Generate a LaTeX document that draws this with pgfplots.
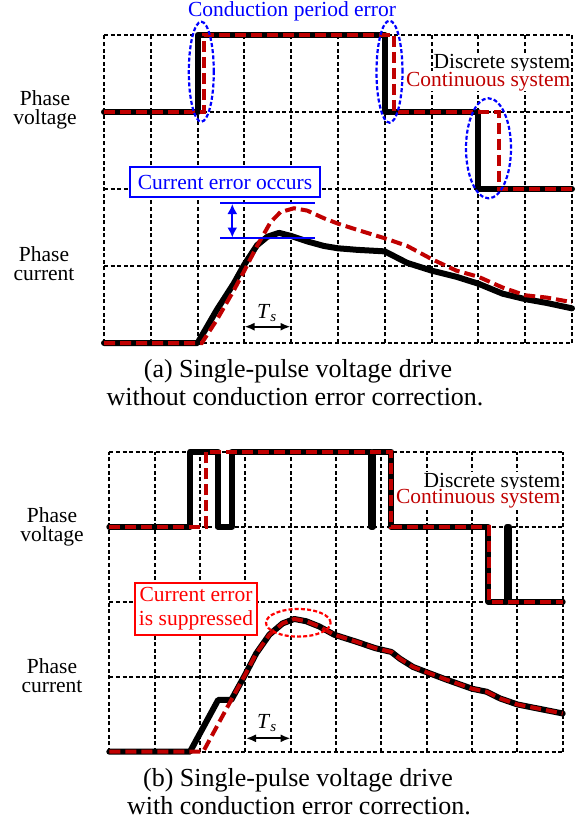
\documentclass[border=0pt]{standalone}
\usepackage{fontspec}
\setmainfont{Liberation Serif}
\usepackage{pgfplots}
\pgfplotsset{compat=1.18}
\usetikzlibrary{arrows.meta}
\definecolor{dred}{RGB}{192,0,0}
\definecolor{bblue}{RGB}{0,0,255}
\definecolor{rred}{RGB}{255,0,0}
\newcommand{\lab}{\fontsize{21.5pt}{21.5pt}\selectfont}
\newcommand{\capf}{\fontsize{26pt}{28pt}\selectfont}
\pgfplotsset{
  panel/.style={scale only axis, xmin=0, xmax=10, ymin=0, ymax=4,
    xtick={0,...,10}, ytick={0,...,4}, xticklabels={}, yticklabels={},
    major tick length=0pt, tick style={draw=none},
    grid=major, major grid style={black, line width=2pt, dash pattern=on 4pt off 2.6pt},
    axis line style={draw=none}, clip=false, anchor=south west},
  disc/.style={black, line width=6pt, line join=round, line cap=round, mark=none},
  cont/.style={dred, line width=4pt, dash pattern=on 11pt off 5pt, mark=none},
}
\begin{document}
\begin{tikzpicture}
\path[use as bounding box] (0,0) rectangle (585pt,-825pt);
% ---------------- panel (a)
\begin{axis}[panel, at={(104pt,-343pt)}, width=468pt, height=308pt]
\addplot[disc] coordinates {(0,3) (2,3) (2,4) (6,4) (6,3) (8,3) (8,2) (10,2)};
\addplot[cont] coordinates {(0,3) (2.14,3) (2.14,4) (6.2,4) (6.2,3) (8.45,3) (8.45,2) (10,2)};
\addplot[disc] coordinates {(0,0) (2,0) (2.41,0.43) (2.77,0.77) (3.0,1.02) (3.27,1.27) (3.49,1.38) (3.74,1.43) (4.0,1.39) (4.34,1.32) (4.7,1.26) (5.0,1.23) (5.41,1.21) (6.0,1.19) (6.48,1.04) (7.0,0.94) (7.53,0.86) (8.0,0.77) (8.52,0.64) (9.0,0.57) (9.46,0.52) (10,0.45)};
\addplot[cont] coordinates {(0,0) (2.09,0) (2.41,0.3) (2.77,0.68) (3.0,0.94) (3.27,1.26) (3.56,1.57) (3.77,1.7) (4.06,1.75) (4.34,1.72) (4.7,1.62) (5.0,1.55) (5.41,1.47) (6.0,1.36) (6.48,1.26) (7.0,1.09) (7.53,0.94) (8.0,0.86) (8.52,0.72) (9.0,0.62) (9.46,0.59) (10,0.53)};
\end{axis}
% ---------------- panel (b)
\begin{axis}[panel, at={(109.3pt,-751.7pt)}, width=453.4pt, height=300pt]
\addplot[disc] coordinates {(0,3) (1.79,3) (1.79,4) (2.39,4) (2.39,3) (2.70,3) (2.70,4) (5.78,4) (5.78,3) (5.82,3) (5.82,4) (6.22,4) (6.22,3) (8.36,3) (8.36,2) (8.78,2) (8.78,3) (8.82,3) (8.82,2) (10,2)};
\addplot[cont] coordinates {(0,3) (2.13,3) (2.13,4) (6.22,4) (6.22,3) (8.38,3) (8.38,2) (10,2)};
\addplot[disc] coordinates {(0,0) (1.78,0) (2.40,0.69) (2.69,0.69) (2.99,1.02) (3.24,1.31) (3.53,1.56) (3.82,1.71) (4.08,1.77) (4.34,1.74) (4.63,1.67) (4.96,1.56) (5.43,1.47) (5.87,1.38) (6.22,1.33) (6.41,1.24) (6.7,1.13) (7.0,1.06) (7.44,0.96) (8.0,0.84) (8.32,0.8) (8.62,0.71) (9.0,0.63) (9.5,0.57) (10,0.51)};
\addplot[cont] coordinates {(0,0) (2.07,0) (2.69,0.69) (2.99,1.02) (3.24,1.31) (3.53,1.56) (3.82,1.71) (4.08,1.77) (4.34,1.74) (4.63,1.67) (4.96,1.56) (5.43,1.47) (5.87,1.38) (6.22,1.33) (6.41,1.24) (6.7,1.13) (7.0,1.06) (7.44,0.96) (8.0,0.84) (8.32,0.8) (8.62,0.71) (9.0,0.63) (9.5,0.57) (10,0.51)};
\end{axis}
% ---------------- annotations (a)
\draw[bblue, line width=2.2pt, dash pattern=on 4pt off 2.2pt] (201.3pt,-71.7pt) ellipse [x radius=12.5pt, y radius=50pt];
\draw[bblue, line width=2.2pt, dash pattern=on 4pt off 2.2pt] (389.5pt,-71.7pt) ellipse [x radius=13pt, y radius=51pt];
\draw[bblue, line width=2.2pt, dash pattern=on 4pt off 2.2pt] (488.5pt,-148.3pt) ellipse [x radius=22.5pt, y radius=50pt];
\node[anchor=base, text=bblue, font=\lab] at (292pt,-16.5pt) {Conduction period error};
\node[anchor=base east, fill=white, inner sep=0.5pt, font=\lab] at (571pt,-68.8pt) {Discrete system};
\node[anchor=base east, fill=white, inner sep=0.5pt, text=dred, font=\lab] at (571pt,-86pt) {Continuous system};
\node[draw=bblue, line width=1.8pt, fill=white, minimum width=190pt, minimum height=30pt, inner sep=0pt, text=bblue, font=\lab] at (225pt,-182pt) {Current error occurs};
\draw[bblue, line width=1.8pt] (220pt,-203.3pt) -- (315pt,-203.3pt);
\draw[bblue, line width=1.8pt] (220pt,-238.3pt) -- (315pt,-238.3pt);
\draw[bblue, line width=1.8pt, {Latex[length=10pt,width=10pt]}-{Latex[length=10pt,width=10pt]}] (232.3pt,-204pt) -- (232.3pt,-237.5pt);
\draw[black, line width=1.8pt, {Latex[length=10pt,width=8pt]}-{Latex[length=10pt,width=8pt]}] (244.5pt,-326.7pt) -- (290.5pt,-326.7pt);
\node[anchor=base, font=\lab] at (267pt,-318.3pt) {\textit{T}\textsubscript{\textit{s}}};
\node[anchor=base, font=\lab] at (45pt,-105pt) {Phase};
\node[anchor=base, font=\lab] at (45pt,-124pt) {voltage};
\node[anchor=base, font=\lab] at (44pt,-261pt) {Phase};
\node[anchor=base, font=\lab] at (44pt,-280pt) {current};
\node[anchor=base, font=\capf] at (298pt,-377pt) {(a) Single-pulse voltage drive};
\node[anchor=base, font=\capf] at (295pt,-405pt) {without conduction error correction.};
% ---------------- annotations (b)
\node[anchor=base east, fill=white, inner sep=0.5pt, font=\lab] at (561pt,-487.2pt) {Discrete system};
\node[anchor=base east, fill=white, inner sep=0.5pt, text=dred, font=\lab] at (561pt,-503.3pt) {Continuous system};
\node[draw=rred, line width=1.8pt, fill=white, minimum width=122pt, minimum height=52pt, inner sep=0pt, text=rred, align=center, font=\fontsize{21.5pt}{24pt}\selectfont] at (196pt,-609pt) {Current error\\is suppressed};
\draw[rred, line width=2.2pt, dash pattern=on 4pt off 2.2pt] (298.3pt,-622.8pt) ellipse [x radius=32.3pt, y radius=13.8pt];
\draw[black, line width=1.8pt, {Latex[length=10pt,width=8pt]}-{Latex[length=10pt,width=8pt]}] (246pt,-738.3pt) -- (290.5pt,-738.3pt);
\node[anchor=base, font=\lab] at (267pt,-728.3pt) {\textit{T}\textsubscript{\textit{s}}};
\node[anchor=base, font=\lab] at (52pt,-522pt) {Phase};
\node[anchor=base, font=\lab] at (52pt,-541pt) {voltage};
\node[anchor=base, font=\lab] at (52pt,-673pt) {Phase};
\node[anchor=base, font=\lab] at (52pt,-692pt) {current};
\node[anchor=base, font=\capf] at (298pt,-786pt) {(b) Single-pulse voltage drive};
\node[anchor=base, font=\capf] at (299pt,-814pt) {with conduction error correction.};
\end{tikzpicture}
\end{document}
